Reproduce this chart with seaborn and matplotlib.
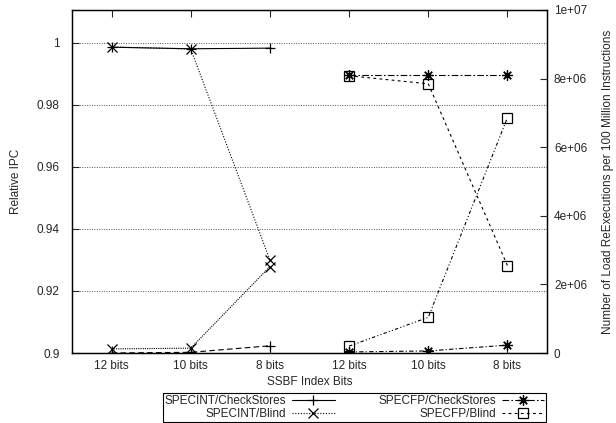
import numpy as np
import matplotlib
matplotlib.use("Agg")
import matplotlib.pyplot as plt
import seaborn as sns
from matplotlib.ticker import FixedLocator, FuncFormatter

# x categories: SPECINT group then SPECFP group
bits = ["12 bits", "10 bits", "8 bits"]
tick_labels = bits + bits

# relative IPC (left axis)
int_check_ipc = [0.9986, 0.9981, 0.9983]
int_blind_ipc = [0.9987, 0.9980, 0.9300]
fp_check_ipc = [0.9897, 0.9897, 0.9897]
fp_blind_ipc = [0.9894, 0.9868, 0.9282]

# load re-executions per 100M instructions (right axis)
int_check_reex = [0.0, 0.02e6, 0.21e6]
int_blind_reex = [0.12e6, 0.14e6, 2.52e6]
fp_check_reex = [0.03e6, 0.06e6, 0.23e6]
fp_blind_reex = [0.20e6, 1.04e6, 6.86e6]

series_names = ["SPECINT/CheckStores", "SPECINT/Blind", "SPECFP/CheckStores", "SPECFP/Blind"]

sns.set_style("ticks")
plt.rcParams['font.family'] = ['Liberation Sans', 'DejaVu Sans']
plt.rcParams['font.size'] = 8.5

x_all = np.arange(1, len(tick_labels) + 1)
x_int = x_all[:len(bits)]
x_fp = x_all[len(bits):]

fig = plt.figure(figsize=(6.16, 4.23), dpi=100)
ax = fig.add_axes([72/616, 1 - 353/423, 475/616, 343/423])
ax2 = ax.twinx()

asterisk = (8, 2, 0)
common = dict(color='black', markeredgecolor='black', markerfacecolor='none',
              markersize=7.5, markeredgewidth=0.9, linewidth=0.8)

# IPC lines
sns.lineplot(x=x_int, y=int_check_ipc, ax=ax, marker='+', linestyle='-', **common)
sns.lineplot(x=x_int, y=int_blind_ipc, ax=ax, marker='x', linestyle=(0, (1, 1.5)), **common)
sns.lineplot(x=x_fp, y=fp_check_ipc, ax=ax, marker=asterisk, linestyle=(0, (6, 2, 1.5, 2)), **common)
sns.lineplot(x=x_fp, y=fp_blind_ipc, ax=ax, marker='s', linestyle=(0, (2.5, 3)), **common)
handles = list(ax.lines)

# re-execution lines
sns.lineplot(x=x_int, y=int_check_reex, ax=ax2, marker='+', linestyle=(0, (5, 3)), **common)
sns.lineplot(x=x_int, y=int_blind_reex, ax=ax2, marker='x', linestyle=(0, (1, 1)), **common)
sns.lineplot(x=x_fp, y=fp_check_reex, ax=ax2, marker=asterisk, linestyle=(0, (4, 2, 1, 2)), **common)
sns.lineplot(x=x_fp, y=fp_blind_reex, ax=ax2, marker='s', linestyle=(0, (3, 2, 1, 2, 1, 2)), **common)

ax.set_xlim(0.5, len(tick_labels) + 0.5)
ax.set_ylim(0.9, 1.0106)
ax2.set_ylim(0, 1e7)

ax.xaxis.set_major_locator(FixedLocator(x_all))
ax.set_xticklabels(tick_labels)
ax.yaxis.set_major_locator(FixedLocator([0.9, 0.92, 0.94, 0.96, 0.98, 1.0]))
ax.yaxis.set_major_formatter(FuncFormatter(lambda v, p: f"{v:g}"))
ax2.yaxis.set_major_locator(FixedLocator(np.arange(0, 1.01e7, 2e6)))
ax2.yaxis.set_major_formatter(FuncFormatter(lambda v, p: "0" if v == 0 else f"{v:.0e}"))

ax.tick_params(axis='x', direction='in', top=True, length=5, width=0.8, pad=5)
ax.tick_params(axis='y', direction='in', length=5, width=0.8, pad=9)
ax2.tick_params(axis='y', direction='in', length=5, width=0.8, pad=5)

ax.yaxis.grid(True, linestyle=(0, (1, 1.5)), color='#555555', linewidth=0.7)
ax.set_axisbelow(True)
for a in (ax, ax2):
    for s in a.spines.values():
        s.set_color('black')
        s.set_linewidth(0.9)

ax.set_ylabel('Relative IPC')
ax.yaxis.set_label_coords(-0.105, 0.5)
ax2.set_ylabel('Number of Load ReExecutions per 100 Million Instructions')
ax2.yaxis.set_label_coords(1.116, 0.5)
ax.set_xlabel('SSBF Index Bits')
ax.xaxis.set_label_coords(0.5, -0.068)

leg = fig.legend(handles, series_names, ncol=2, markerfirst=False,
                 loc='lower left', bbox_to_anchor=(163/616, 1/423, 383/616, 29/423),
                 mode='expand', fancybox=False, framealpha=1, edgecolor='black',
                 borderpad=0.15, labelspacing=0.1, handlelength=3.6, handletextpad=0.5,
                 borderaxespad=0, fontsize=8.5)
leg.get_frame().set_linewidth(0.8)

fig.savefig('out.png', dpi=100)
